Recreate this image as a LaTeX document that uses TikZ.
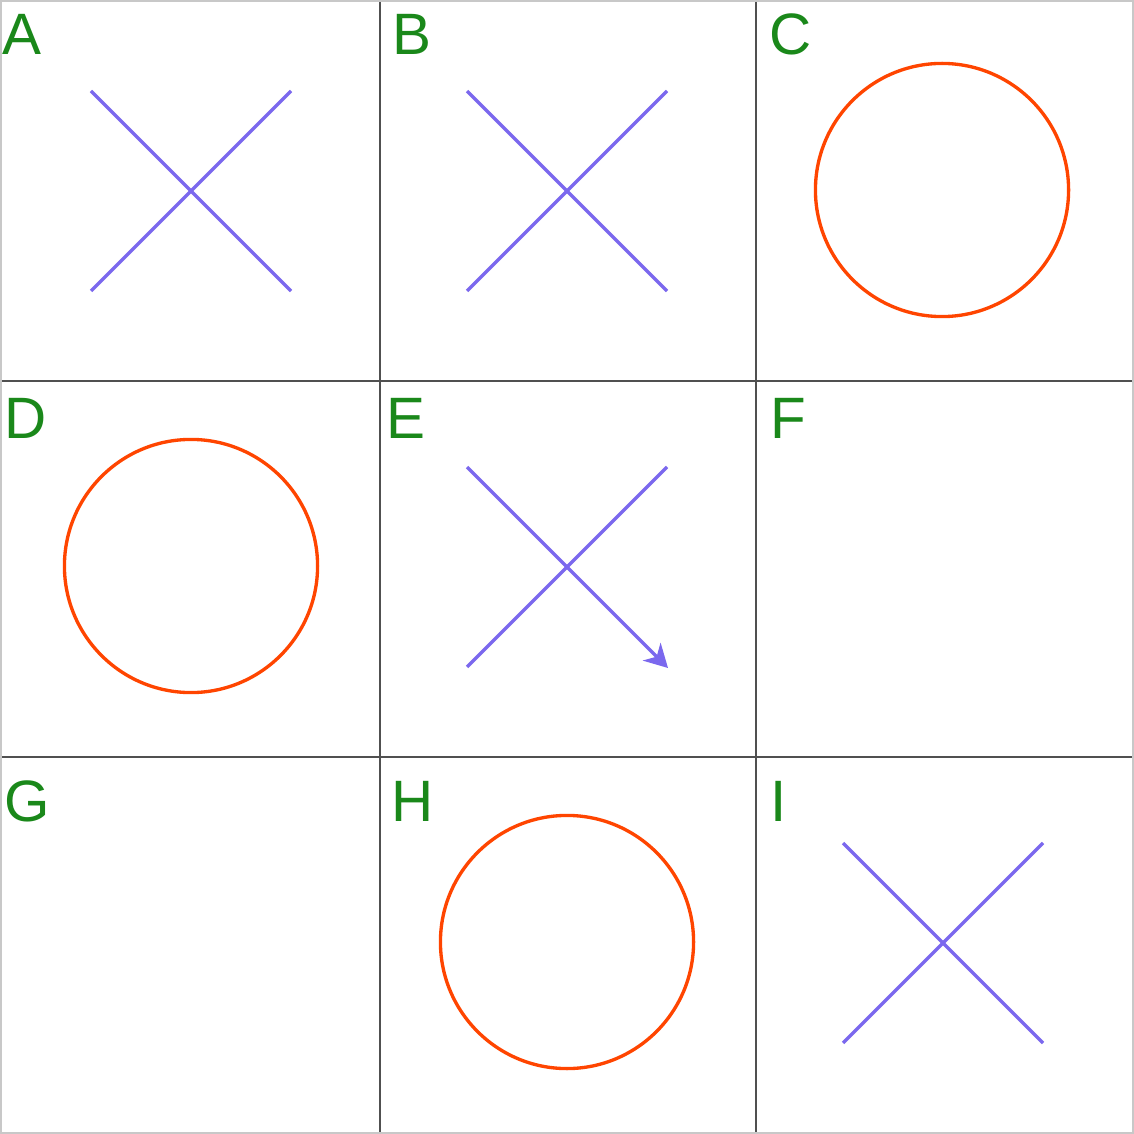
\documentclass[tikz,border=0pt]{standalone}
\usepackage{fontspec}
\setmainfont{Liberation Sans}
\usetikzlibrary{arrows.meta}
\definecolor{markgreen}{RGB}{26,136,26}
\definecolor{crossblue}{RGB}{123,104,238}
\definecolor{ringred}{RGB}{255,69,0}
\definecolor{gridgray}{RGB}{80,80,80}
\definecolor{framegray}{RGB}{200,200,200}
\begin{document}
\begin{tikzpicture}[x=0.01cm,y=-0.01cm,
  celllabel/.style={anchor=base west,inner sep=0pt,text=markgreen,font=\fontsize{16.6}{19}\selectfont},
  cross/.style={crossblue,line width=0.95pt},
  ring/.style={ringred,line width=0.95pt}]
\useasboundingbox (0,0) rectangle (1134,1134);
\fill[white] (0,0) rectangle (1134,1134);
\draw[framegray,line width=0.7pt] (1,1) rectangle (1133,1133);

\draw[gridgray,line width=0.7pt] (380,2)--(380,1132);
\draw[gridgray,line width=0.7pt] (756,2)--(756,1132);
\draw[gridgray,line width=0.7pt] (2,381)--(1132,381);
\draw[gridgray,line width=0.7pt] (2,757)--(1132,757);

\node[celllabel] (cellA) at (2,55) {A};
\node[celllabel] (cellB) at (392,55) {B};
\node[celllabel] (cellC) at (769,55) {C};
\node[celllabel] (cellD) at (3.5,439) {D};
\node[celllabel] (cellE) at (385.5,439) {E};
\node[celllabel] (cellF) at (770,439) {F};
\node[celllabel] (cellG) at (4,821) {G};
\node[celllabel] (cellH) at (390.5,821) {H};
\node[celllabel] (cellI) at (770,821) {I};

\draw[cross] (91,91)--(291,291);
\draw[cross] (91,291)--(291,91);

\draw[cross] (467,91)--(667,291);
\draw[cross] (467,291)--(667,91);

\draw[cross] (467,667)--(667,467);
\draw[cross,-{Stealth[length=0.23cm,width=0.25cm,inset=0.07cm]}] (467,467)--(668,668);

\draw[cross] (843,843)--(1043,1043);
\draw[cross] (843,1043)--(1043,843);

\draw[ring] (942,190) circle[radius=1.265cm];
\draw[ring] (191,566) circle[radius=1.265cm];
\draw[ring] (567,942) circle[radius=1.265cm];
\end{tikzpicture}
\end{document}
